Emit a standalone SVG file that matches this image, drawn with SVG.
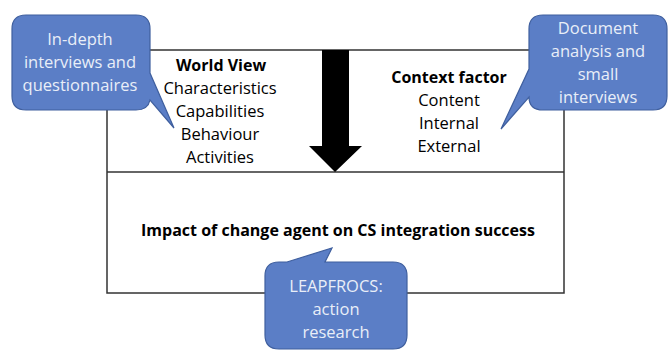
<svg xmlns="http://www.w3.org/2000/svg" width="668" height="353" viewBox="0 0 668 353">
  <style>
    .frame { fill: none; stroke: #333; stroke-width: 1.5; }
    .txt { font-family: "Open Sans", "Liberation Sans", sans-serif; font-size: 16.5px; fill: #000; text-anchor: middle; }
    .bold { font-weight: bold; font-size: 16px; }
    .callout { fill: #5b7ec6; stroke: #3f5f9e; stroke-width: 1.2; }
    .ctxt { font-family: "Open Sans", "Liberation Sans", sans-serif; font-size: 16.5px; fill: #e9eef8; text-anchor: middle; }
  </style>

  <!-- outer frame split into two panels -->
  <g id="frame">
    <rect class="frame" x="107" y="50" width="457" height="243"/>
    <line class="frame" x1="107" y1="172" x2="564" y2="172"/>
  </g>

  <!-- big downward arrow between the panels -->
  <g id="connectors">
    <polygon points="322,50 349,50 349,146 362,146 335,172 309,146 322,146" fill="#000"/>
  </g>

  <g id="world-view">
    <text class="txt bold" x="221" y="71">World View</text>
    <text class="txt" x="220" y="94">Characteristics</text>
    <text class="txt" x="220" y="117">Capabilities</text>
    <text class="txt" x="220" y="140">Behaviour</text>
    <text class="txt" x="220" y="163">Activities</text>
  </g>

  <g id="context-factor">
    <text class="txt bold" x="449" y="83">Context factor</text>
    <text class="txt" x="449" y="106">Content</text>
    <text class="txt" x="449" y="129">Internal</text>
    <text class="txt" x="449" y="152">External</text>
  </g>

  <g id="impact">
    <text class="txt bold" x="338" y="236">Impact of change agent on CS integration success</text>
  </g>

  <!-- speech-bubble callouts -->
  <g id="callout-interviews">
    <path class="callout" d="M26,15 H136 Q150,15 150,29 V73 L174,128 L150,100 Q148,110 136,110 H26 Q12,110 12,96 V29 Q12,15 26,15 Z"/>
    <text class="ctxt" x="80" y="45">In-depth</text>
    <text class="ctxt" x="80" y="68">interviews and</text>
    <text class="ctxt" x="80" y="91">questionnaires</text>
  </g>

  <g id="callout-documents">
    <path class="callout" d="M543,15 H653 Q667,15 667,29 V96 Q667,110 653,110 H543 Q529,110 529,97 L501,129 L529,69 V29 Q529,15 543,15 Z"/>
    <text class="ctxt" x="598" y="34">Document</text>
    <text class="ctxt" x="598" y="57">analysis and</text>
    <text class="ctxt" x="598" y="80">small</text>
    <text class="ctxt" x="598" y="103">interviews</text>
  </g>

  <g id="callout-leapfrocs">
    <path class="callout" d="M279,262 H287 L332,248 L325,262 H393 Q407,262 407,276 V335 Q407,349 393,349 H279 Q265,349 265,335 V276 Q265,262 279,262 Z"/>
    <text class="ctxt" x="336" y="292">LEAPFROCS:</text>
    <text class="ctxt" x="336" y="315">action</text>
    <text class="ctxt" x="336" y="338">research</text>
  </g>
</svg>
